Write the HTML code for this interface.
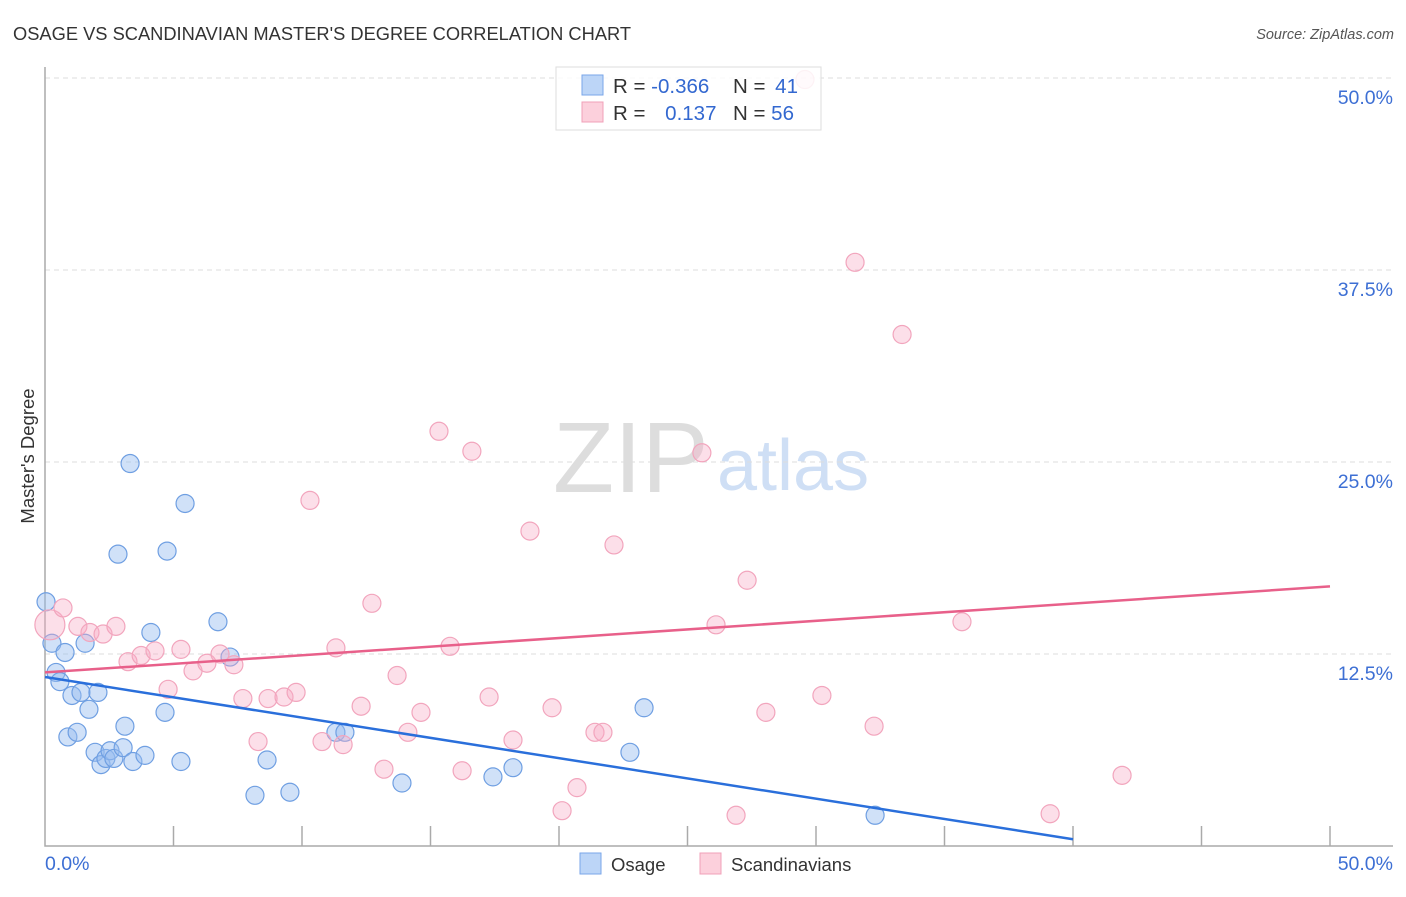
<!DOCTYPE html>
<html><head><meta charset="utf-8"><style>
body{margin:0;background:#fff;font-family:"Liberation Sans",sans-serif;}
svg text{font-family:"Liberation Sans",sans-serif;}
</style></head><body>
<svg id="chart" width="1406" height="892" xmlns="http://www.w3.org/2000/svg">
<text x="13" y="40" font-size="18.3" fill="#333">OSAGE VS SCANDINAVIAN MASTER'S DEGREE CORRELATION CHART</text>
<text x="1394" y="39" font-size="14.5" fill="#555" text-anchor="end" font-style="italic">Source: ZipAtlas.com</text>
<text transform="translate(34,456) rotate(-90)" font-size="18.5" fill="#333" text-anchor="middle">Master's Degree</text>
<g>
<text x="553" y="492" font-size="100" fill="#ddd" font-family="Liberation Serif,serif">ZIP</text>
<text x="717" y="490" font-size="72" fill="#cfdff5">atlas</text>
</g>
<g id="grid"></g><g id="axes"></g><g id="marks"></g>
<g>
<rect x="556" y="67" width="265" height="63" fill="rgba(255,255,255,0.85)" stroke="#ddd"/>
<rect x="582" y="75" width="21" height="20" fill="#bcd5f7" stroke="#7aa6e8"/>
<rect x="582" y="102" width="21" height="20" fill="#fcd0dc" stroke="#f0a0b8"/>
<text x="613" y="93" font-size="20.5" fill="#333">R = <tspan fill="#3368d0">-0.366</tspan></text>
<text x="733" y="93" font-size="20.5" fill="#333">N = <tspan fill="#3368d0" dx="4">41</tspan></text>
<text x="613" y="120" font-size="20.5" fill="#333">R = <tspan fill="#3368d0" dx="14">0.137</tspan></text>
<text x="733" y="120" font-size="20.5" fill="#333">N = <tspan fill="#3368d0">56</tspan></text>
</g>
<g>
<rect x="580" y="853" width="21" height="21" fill="#bcd5f7" stroke="#7aa6e8"/>
<text x="611" y="871" font-size="18.5" fill="#333">Osage</text>
<rect x="700" y="853" width="21" height="21" fill="#fcd0dc" stroke="#f0a0b8"/>
<text x="731" y="871" font-size="18.5" fill="#333">Scandinavians</text>
</g>
</svg>
<script>
const osageX=[0.04,0.27,0.43,0.58,0.78,0.89,1.05,1.25,1.40,1.56,1.71,1.95,2.06,2.18,2.37,2.53,2.68,2.84,3.04,3.11,3.31,3.42,3.89,4.12,4.67,4.75,5.29,5.45,6.73,7.20,8.17,8.64,9.53,11.32,11.67,13.89,17.43,18.21,22.76,23.31,32.30];
const osageY=[15.9,13.2,11.3,10.7,12.6,7.1,9.8,7.4,10.0,13.2,8.9,6.1,10.0,5.3,5.7,6.2,5.7,19.0,6.4,7.8,24.9,5.5,5.9,13.9,8.7,19.2,5.5,22.3,14.6,12.3,3.3,5.6,3.5,7.4,7.4,4.1,4.5,5.1,6.1,9.0,2.0];
const scandX=[0.19,0.70,1.28,1.75,2.26,2.76,3.23,3.74,4.28,4.79,5.29,5.76,6.30,6.81,7.35,7.70,8.29,8.68,9.30,9.77,10.31,10.78,11.32,11.60,12.30,12.72,13.19,13.70,14.12,14.63,15.33,15.76,16.23,16.61,17.28,18.21,18.87,19.73,20.12,20.70,21.40,21.71,22.14,25.56,26.11,26.89,27.32,28.05,30.23,31.52,32.26,33.35,35.68,39.11,41.91,29.57];
const scandY=[14.4,15.5,14.3,13.9,13.8,14.3,12.0,12.4,12.7,10.2,12.8,11.4,11.9,12.5,11.8,9.6,6.8,9.6,9.7,10.0,22.5,6.8,12.9,6.6,9.1,15.8,5.0,11.1,7.4,8.7,27.0,13.0,4.9,25.7,9.7,6.9,20.5,9.0,2.3,3.8,7.4,7.4,19.6,25.6,14.4,2.0,17.3,8.7,9.8,38.0,7.8,33.3,14.6,2.1,4.6,49.9];
const yTicks=[12.5,25.0,37.5,50.0];
const yTickLabels=["12.5%","25.0%","37.5%","50.0%"];
const osageTrend=[11.0,-0.264];
const scandTrend=[11.3,0.112];
const NS="http://www.w3.org/2000/svg";
const xs=v=>45+v*25.7, ys=v=>846-v*15.36;
function mk(t,a,p){const e=document.createElementNS(NS,t);for(const k in a)e.setAttribute(k,a[k]);p.appendChild(e);return e;}
const grid=document.getElementById('grid'),axes=document.getElementById('axes'),marks=document.getElementById('marks');
yTicks.forEach((t,i)=>{
 const l=mk('line',{x1:45,x2:1393,y1:ys(t),y2:ys(t),stroke:'#ddd','stroke-dasharray':'5,4'},grid);
 
 
 const tx=mk('text',{x:1393,y:ys(t)+26,'font-size':19.5,fill:'#3d6fd4','text-anchor':'end'},grid);
 tx.textContent=yTickLabels[i];
 
 
});
const ax=mk('path',{d:'M45,67V846H1393',stroke:'#aaa',fill:'none','stroke-width':1.5},axes);


for(let i=1;i<=10;i++){const t=mk('line',{x1:xs(i*5),x2:xs(i*5),y1:826,y2:846,stroke:'#aaa','stroke-width':1.5},axes);
 
 }
[["0.0%",45,'start'],["50.0%",1393,'end']].forEach(a=>{const t=mk('text',{x:a[1],y:870,'font-size':19.5,fill:'#3d6fd4','text-anchor':a[2]},axes);t.textContent=a[0];
 
 });
osageX.forEach((x,i)=>{const c=mk('circle',{cx:xs(x),cy:ys(osageY[i]),r:9,fill:'rgba(150,188,240,0.45)',stroke:'#6f9fe2','stroke-width':1.2},marks);
 
 });
scandX.forEach((x,i)=>{const c=mk('circle',{cx:xs(x),cy:ys(scandY[i]),r:i===0?15:9,fill:'rgba(246,172,196,0.38)',stroke:'#f2a5bd','stroke-width':1.2},marks);
 
 });
const xEnd=-osageTrend[0]/osageTrend[1];
const ol=mk('line',{x1:xs(0),y1:ys(osageTrend[0]),x2:xs(Math.min(40,xEnd)),y2:ys(osageTrend[0]+osageTrend[1]*Math.min(40,xEnd)),stroke:'#2a6fdb','stroke-width':2.5},marks);


const sl=mk('line',{x1:xs(0),y1:ys(scandTrend[0]),x2:xs(50),y2:ys(scandTrend[0]+scandTrend[1]*50),stroke:'#e8608a','stroke-width':2.5},marks);


</script>
</body></html>
